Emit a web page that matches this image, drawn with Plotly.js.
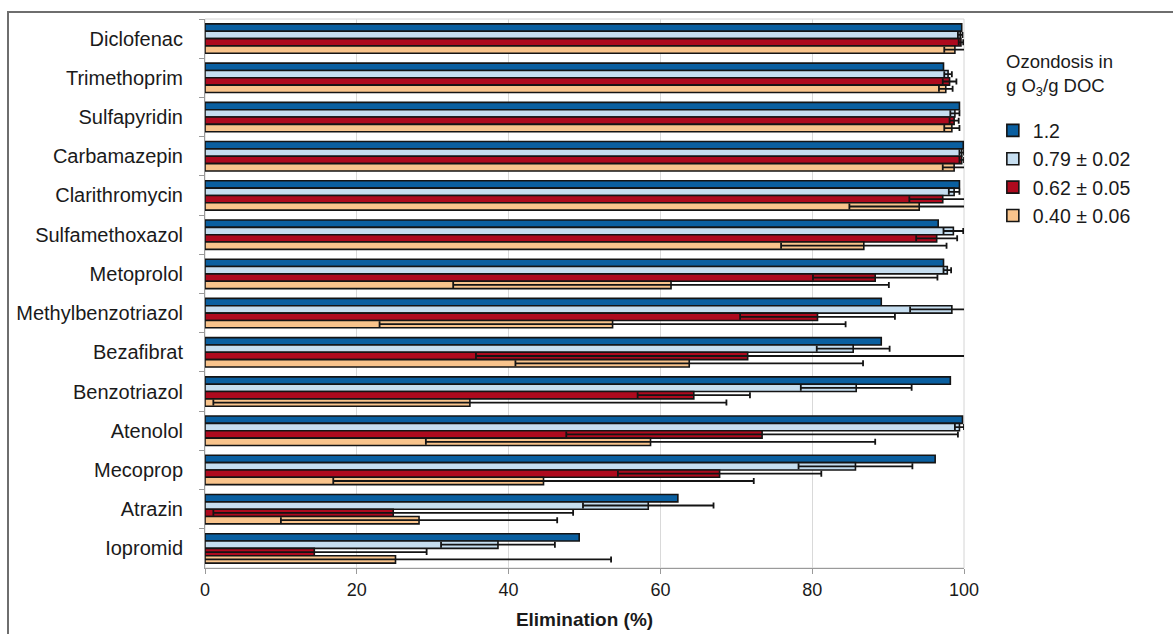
<!DOCTYPE html>
<html>
<head>
<meta charset="utf-8">
<script src="https://cdn.plot.ly/plotly-3.0.1.min.js"></script>
<style>
html,body{margin:0;padding:0;background:#fff;}
#wrap{position:relative;width:1173px;height:634px;overflow:hidden;}
#chart{position:absolute;left:0;top:0;width:1173px;height:634px;}
#frame{position:absolute;left:7px;top:11px;width:1200px;height:700px;border-left:2px solid #6e6e6e;border-top:2px solid #6e6e6e;pointer-events:none;}
</style>
</head>
<body>
<div id="wrap"><div id="chart"></div><div id="frame"></div></div>
<script>
const categories = ["Diclofenac","Trimethoprim","Sulfapyridin","Carbamazepin","Clarithromycin","Sulfamethoxazol","Metoprolol","Methylbenzotriazol","Bezafibrat","Benzotriazol","Atenolol","Mecoprop","Atrazin","Iopromid"];
const seriesNames = ["1.2","0.79 ± 0.02","0.62 ± 0.05","0.40 ± 0.06"];

const dose120 = [99.7, 97.3, 99.4, 99.9, 99.4, 96.6, 97.3, 89.1, 89.1, 98.2, 99.8, 96.2, 62.3, 49.3];
const err120  = [0, 0, 0, 0, 0, 0, 0, 0, 0, 0, 0, 0, 0, 0];

const dose079 = [99.5, 97.9, 98.8, 99.7, 98.7, 98.6, 97.8, 98.4, 85.4, 85.8, 99.4, 85.7, 58.4, 38.6];
const err079  = [0.3, 0.5, 0.6, 0.3, 0.7, 1.3, 0.5, 5.5, 4.8, 7.3, 0.6, 7.5, 8.6, 7.5];

const dose062 = [99.6, 98.1, 98.7, 99.7, 97.2, 96.4, 88.3, 80.7, 71.5, 64.4, 73.4, 67.8, 24.8, 14.4];
const err062  = [0.3, 0.9, 0.6, 0.3, 4.4, 2.7, 8.2, 10.2, 35.8, 7.4, 25.8, 13.4, 23.7, 14.8];

const dose040 = [98.8, 97.6, 98.4, 98.7, 94.1, 86.8, 61.4, 53.7, 63.8, 34.9, 58.7, 44.6, 28.2, 25.1];
const err040  = [1.4, 0.9, 1.0, 1.5, 9.2, 10.9, 28.7, 30.7, 22.9, 33.8, 29.6, 27.7, 18.2, 28.4];

const xTicks = [0, 20, 40, 60, 80, 100];

const colors = ["#0a5fa0", "#c6def0", "#ae0a1e", "#f9c48c"];
const values = [dose120, dose079, dose062, dose040];
const errors = [err120, err079, err062, err040];

const FONT = "Liberation Sans, Arial, Helvetica, sans-serif";

const traces = values.map((v, i) => ({
  type: "bar",
  orientation: "h",
  name: seriesNames[i],
  y: categories,
  x: v,
  marker: {color: colors[i], line: {color: "#141414", width: 1.6}},
  error_x: {
    type: "data",
    array: errors[i],
    visible: errors[i].some(e => e > 0),
    color: "#141414",
    thickness: 1.8,
    width: 3
  },
  hoverinfo: "x+y"
}));

const layout = {
  width: 1173,
  height: 634,
  margin: {l: 205, r: 209, t: 19, b: 66, pad: 0},
  paper_bgcolor: "#ffffff",
  plot_bgcolor: "#ffffff",
  barmode: "group",
  bargap: 0.25,
  bargroupgap: 0,
  font: {family: FONT, size: 18, color: "#1a1a1a"},
  showlegend: true,
  legend: {
    x: 1.038, xanchor: "left",
    y: 0.832, yanchor: "top",
    font: {family: FONT, size: 19.5, color: "#1a1a1a"},
    traceorder: "normal",
    bgcolor: "rgba(0,0,0,0)",
    itemwidth: 30
  },
  xaxis: {
    range: [0, 100],
    tickvals: xTicks,
    ticktext: xTicks.map(String),
    showgrid: true,
    gridcolor: "#d9d9d9",
    gridwidth: 1,
    zeroline: false,
    showline: true,
    linecolor: "#9a9a9a",
    linewidth: 1,
    ticks: "outside",
    ticklen: 5,
    tickcolor: "#9a9a9a",
    tickfont: {family: "Liberation Sans Narrow, " + FONT, size: 18, color: "#1a1a1a"},
    title: {text: "<b>Elimination (%)</b>", font: {family: "Liberation Sans Narrow, " + FONT, size: 19, color: "#1a1a1a"}, standoff: 14},
    fixedrange: true
  },
  yaxis: {
    type: "category",
    categoryorder: "array",
    categoryarray: categories,
    autorange: "reversed",
    showgrid: false,
    zeroline: false,
    showline: true,
    linecolor: "#9a9a9a",
    linewidth: 1,
    ticks: "outside",
    tickson: "boundaries",
    ticklen: 5,
    tickcolor: "#9a9a9a",
    tickfont: {family: FONT, size: 20, color: "#1a1a1a"},
    ticklabelstandoff: 17,
    fixedrange: true
  },
  shapes: [{
    type: "rect", xref: "paper", yref: "paper", x0: 0, x1: 1, y0: 0, y1: 1,
    line: {color: "#d4d4d4", width: 1}, layer: "below"
  }],
  annotations: [{
    xref: "paper", yref: "paper", x: 1.053, y: 0.945, xanchor: "left", yanchor: "top",
    align: "left", showarrow: false,
    text: "Ozondosis in<br>g O<sub>3</sub>/g DOC",
    font: {family: FONT, size: 18.5, color: "#1a1a1a"}
  }]
};

Plotly.newPlot("chart", traces, layout, {displayModeBar: false, staticPlot: true});
</script>
</body>
</html>
